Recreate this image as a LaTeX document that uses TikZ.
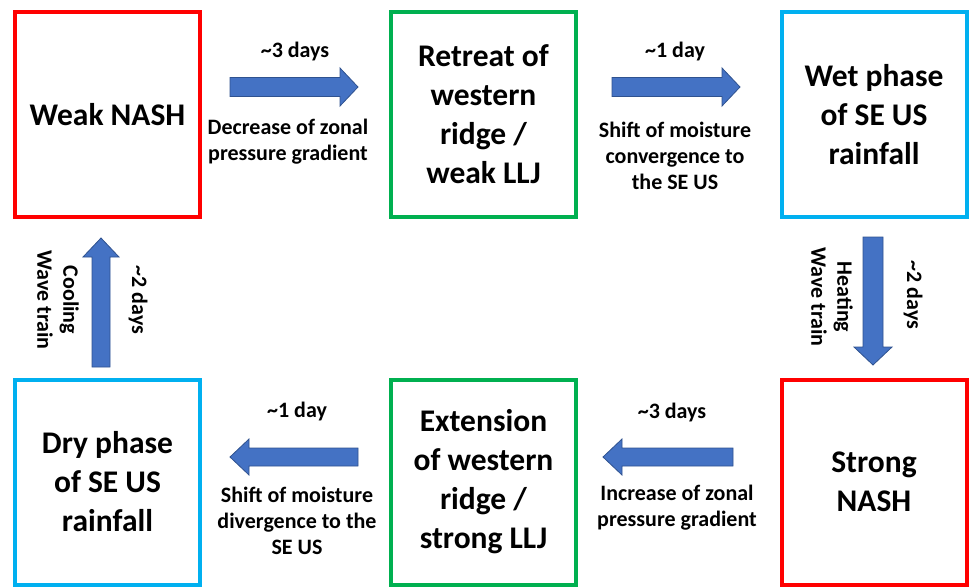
\documentclass[tikz,border=0pt]{standalone}
\usepackage{fontspec}
\setmainfont{Carlito}
\definecolor{boxred}{RGB}{255,0,0}
\definecolor{boxgreen}{RGB}{0,176,80}
\definecolor{boxcyan}{RGB}{0,176,240}
\definecolor{arrowblue}{RGB}{68,114,196}
\definecolor{arrowedge}{RGB}{47,82,143}
\begin{document}
\begin{tikzpicture}[x=1pt,y=-1pt,
  stagebox/.style={draw, line width=4pt, minimum width=185pt, minimum height=205pt, inner sep=0pt, align=center, font=\fontsize{31.5}{39}\selectfont\bfseries},
  blockarrow/.style={fill=arrowblue, draw=arrowedge, line width=0.8pt, line join=miter},
  lbl/.style={align=center, inner sep=0pt, font=\fontsize{22}{26}\selectfont\bfseries}]
\useasboundingbox (0,0) rectangle (970,587);
% boxes
\node[stagebox, draw=boxred] (weak) at (107.5,114.5) {Weak NASH};
\node[stagebox, draw=boxgreen] (retreat) at (483.5,114.5) {Retreat of\\western\\ridge /\\weak LLJ};
\node[stagebox, draw=boxcyan] (wet) at (874,114.5) {Wet phase\\of SE US\\rainfall};
\node[stagebox, draw=boxcyan] (dry) at (107.5,482) {Dry phase\\of SE US\\rainfall};
\node[stagebox, draw=boxgreen] (ext) at (483.5,482) {Extension\\of western\\ridge /\\strong LLJ};
\node[stagebox, draw=boxred] (strong) at (874,482) {Strong\\NASH};
% block arrows
\draw[blockarrow] (230,77.5) -- (340,77.5) -- (340,68) -- (358,87) -- (340,106) -- (340,96.5) -- (230,96.5) -- cycle;
\draw[blockarrow] (612,77.5) -- (722,77.5) -- (722,68) -- (740,87) -- (722,106) -- (722,96.5) -- (612,96.5) -- cycle;
\draw[blockarrow] (863,237) -- (863,347) -- (854,347) -- (873,365) -- (892,347) -- (883,347) -- (883,237) -- cycle;
\draw[blockarrow] (733,448) -- (622,448) -- (622,439) -- (603,457) -- (622,475) -- (622,466) -- (733,466) -- cycle;
\draw[blockarrow] (358,448) -- (249,448) -- (249,439) -- (230,457) -- (249,475) -- (249,466) -- (358,466) -- cycle;
\draw[blockarrow] (92,367) -- (92,257) -- (83,257) -- (101,238) -- (119,257) -- (110,257) -- (110,367) -- cycle;
% labels
\node[lbl] (t1) at (295,52) {\textasciitilde 3 days};
\node[lbl] (d1) at (288,142) {Decrease of zonal\\pressure gradient};
\node[lbl] (t2) at (675,52) {\textasciitilde 1 day};
\node[lbl] (d2) at (675,156) {Shift of moisture\\convergence to\\the SE US};
\node[lbl, rotate=-90] (d3) at (832,297) {Heating\\Wave train};
\node[lbl, rotate=-90] (t3) at (913,295) {\textasciitilde 2 days};
\node[lbl] (t4) at (672,413) {\textasciitilde 3 days};
\node[lbl] (d4) at (677,508) {Increase of zonal\\pressure gradient};
\node[lbl] (t5) at (297,412) {\textasciitilde 1 day};
\node[lbl] (d5) at (297,521) {Shift of moisture\\divergence to the\\SE US};
\node[lbl, rotate=-90] (d6) at (58,300) {Cooling\\Wave train};
\node[lbl, rotate=-90] (t6) at (138,300) {\textasciitilde 2 days};
\end{tikzpicture}
\end{document}
